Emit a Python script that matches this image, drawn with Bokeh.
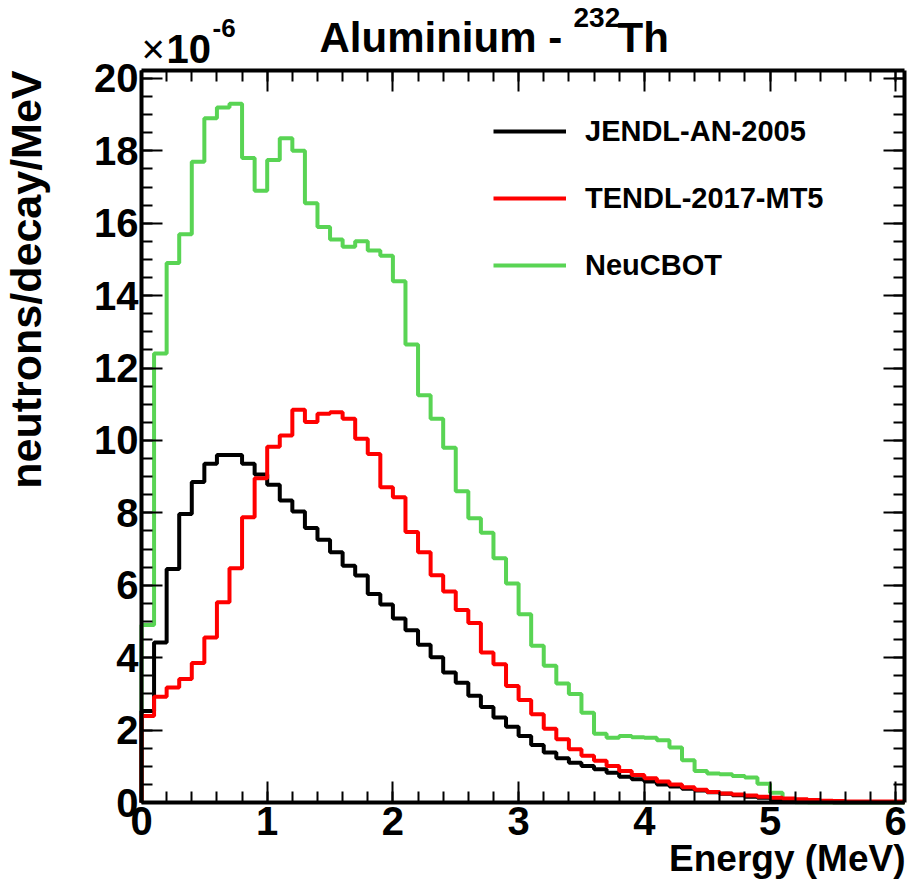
import math
from bokeh.plotting import figure
from bokeh.models import (FixedTicker, LinearAxis, Label, Legend, LegendItem, Range1d)
from bokeh.embed import file_html
from bokeh.resources import INLINE

# ---------------- data (units of 1e-6 neutrons/decay/MeV) ----------------
bin_low = [0.0, 0.1, 0.2, 0.3, 0.4, 0.5, 0.6, 0.7, 0.8, 0.9,
           1.0, 1.1, 1.2, 1.3, 1.4, 1.5, 1.6, 1.7, 1.8, 1.9,
           2.0, 2.1, 2.2, 2.3, 2.4, 2.5, 2.6, 2.7, 2.8, 2.9,
           3.0, 3.1, 3.2, 3.3, 3.4, 3.5, 3.6, 3.7, 3.8, 3.9,
           4.0, 4.1, 4.2, 4.3, 4.4, 4.5, 4.6, 4.7, 4.8, 4.9,
           5.0, 5.1, 5.2, 5.3, 5.4, 5.5, 5.6, 5.7, 5.8, 5.9, 6.0]
bin_high_end = 6.07

jendl = [2.53, 4.42, 6.45, 7.97, 8.85, 9.36, 9.60, 9.60, 9.36, 9.06,
         8.78, 8.34, 8.04, 7.58, 7.26, 6.91, 6.54, 6.27, 5.76, 5.47,
         5.08, 4.76, 4.36, 4.01, 3.59, 3.31, 2.95, 2.64, 2.35, 2.09,
         1.84, 1.59, 1.38, 1.22, 1.10, 1.01, 0.92, 0.82, 0.71, 0.64,
         0.58, 0.50, 0.44, 0.38, 0.33, 0.28, 0.24, 0.20, 0.16, 0.13,
         0.10, 0.07, 0.05, 0.03, 0.02, 0.01, 0.01, 0.01, 0.01, 0.01, 0.01]

tendl = [2.39, 2.92, 3.18, 3.41, 3.85, 4.56, 5.53, 6.47, 7.88, 8.96,
         9.83, 10.14, 10.85, 10.51, 10.74, 10.78, 10.60, 10.05, 9.63, 8.71,
         8.43, 7.47, 6.91, 6.28, 5.83, 5.32, 4.96, 4.14, 3.82, 3.22,
         2.83, 2.44, 2.04, 1.75, 1.47, 1.29, 1.15, 1.01, 0.87, 0.76,
         0.67, 0.58, 0.50, 0.42, 0.35, 0.29, 0.25, 0.22, 0.19, 0.16,
         0.13, 0.11, 0.09, 0.07, 0.05, 0.04, 0.03, 0.03, 0.03, 0.03, 0.03]

neucbot = [4.90, 12.40, 14.90, 15.70, 17.70, 18.90, 19.20, 19.30, 17.80, 16.90,
           17.75, 18.35, 18.00, 16.55, 15.90, 15.55, 15.35, 15.50, 15.25, 15.10,
           14.40, 12.65, 11.25, 10.60, 9.80, 8.60, 7.85, 7.45, 6.75, 6.05,
           5.20, 4.33, 3.78, 3.29, 3.00, 2.48, 1.90, 1.79, 1.84, 1.80,
           1.79, 1.72, 1.52, 1.17, 0.87, 0.80, 0.78, 0.73, 0.69, 0.52,
           0.27, 0.03, 0.01, 0.0, 0.0, 0.0, 0.0, 0.0, 0.0, 0.0, 0.0]

series_names = ["JENDL-AN-2005", "TENDL-2017-MT5", "NeuCBOT"]
series_colors = ["#000000", "#ff0000", "#59d454"]

x_major = [0, 1, 2, 3, 4, 5, 6]
x_minor = [round(0.2 * i, 1) for i in range(0, 31)]
y_major = [0, 2, 4, 6, 8, 10, 12, 14, 16, 18, 20]
y_minor = [0.5 * i for i in range(0, 41)]

X_MAX, Y_MAX = 6.07, 20.22

FONT = "Liberation Sans"

W, H = 907, 890
FL, FR, FT, FB = 141, 904, 70, 802   # axis frame edges in canvas px
sx = (FR - FL) / X_MAX
sy = (FB - FT) / Y_MAX

# the plotting frame covers the whole canvas; axes are placed at fixed data locations
p = figure(width=W, height=H, output_backend="svg", toolbar_location=None,
           x_range=Range1d(-FL / sx, (W - FL) / sx),
           y_range=Range1d(-(H - FB) / sy, FB / sy),
           min_border=0, x_axis_location=None, y_axis_location=None)
p.grid.visible = False
p.outline_line_color = None
p.background_fill_color = "white"
p.border_fill_color = "white"


def hist_xy(vals):
    xs = [bin_low[0]] + list(bin_low) + [bin_high_end]
    ys = [0.0] + list(vals) + [vals[-1]]
    return xs, ys


renderers = []
for vals, col in zip([jendl, tendl, neucbot], series_colors):
    xs, ys = hist_xy(vals)
    r = p.step(xs, ys, mode="after", line_color=col, line_width=4)
    renderers.append(r)
# draw order: green below, then black, then red
p.renderers = [renderers[2], renderers[0], renderers[1]]


def make_axis(kind, ticks, minors, loc, labels=True):
    ax = LinearAxis(ticker=FixedTicker(ticks=ticks, minor_ticks=minors),
                    fixed_location=loc,
                    bounds=(0, X_MAX) if kind == "x" else (0, Y_MAX))
    ax.axis_line_width = 4
    ax.axis_line_color = "black"
    ax.major_tick_in = 21
    ax.major_tick_out = 0
    ax.minor_tick_in = 11
    ax.minor_tick_out = 0
    ax.major_tick_line_width = 2
    ax.minor_tick_line_width = 2
    ax.major_tick_line_color = "black"
    ax.minor_tick_line_color = "black"
    ax.major_label_text_font = FONT
    ax.major_label_text_font_style = "bold"
    ax.major_label_text_font_size = "40px"
    ax.major_label_text_color = "black"
    if labels:
        ax.major_label_standoff = 4 if kind == "x" else 3
    else:
        ax.major_label_overrides = {t: "" for t in ticks}
    return ax


p.add_layout(make_axis("x", x_major, x_minor, 0, True), "below")
p.add_layout(make_axis("x", x_major, x_minor, Y_MAX, False), "above")
p.add_layout(make_axis("y", y_major, y_minor, 0, True), "left")
p.add_layout(make_axis("y", y_major, y_minor, X_MAX, False), "right")

BASE_SHIFT = 16  # Bokeh places the alphabetic baseline this much lower


def lab(text, X, Y, size, style="bold", align="left", angle=0.0):
    if angle == 0.0:
        Y = Y - BASE_SHIFT
    else:
        X = X - BASE_SHIFT
    p.add_layout(Label(x=X, y=H - Y, x_units="screen", y_units="screen",
                       text=text, text_font=FONT, text_font_style=style,
                       text_font_size=size, text_color="black",
                       text_align=align, text_baseline="alphabetic", angle=angle))


# title
lab("Aluminium - ", 319, 53, "42px")
lab("232", 573, 33, "28px")
lab("Th", 617, 53, "42px")
# exponent
lab("\u00d7", 141, 64, "40px", style="normal")
lab("10", 166, 64, "40px")
lab("-6", 212, 43, "26px")
# axis titles
lab("Energy (MeV)", 905, 874, "37px", align="right")
lab("neutrons/decay/MeV", 41, 70, "43px", align="right", angle=math.pi / 2)

# legend
items = [LegendItem(label=n, renderers=[r]) for n, r in zip(series_names, renderers)]
legend = Legend(items=items, location=(493, H - 282),
                glyph_width=73, glyph_height=34, label_height=34, spacing=33,
                label_standoff=19, padding=0, margin=0,
                label_text_font=FONT, label_text_font_style="bold",
                label_text_font_size="29px", label_text_color="black",
                border_line_alpha=0, background_fill_alpha=0)
p.add_layout(legend, "center")

open("out.html", "w").write(file_html(p, INLINE))
